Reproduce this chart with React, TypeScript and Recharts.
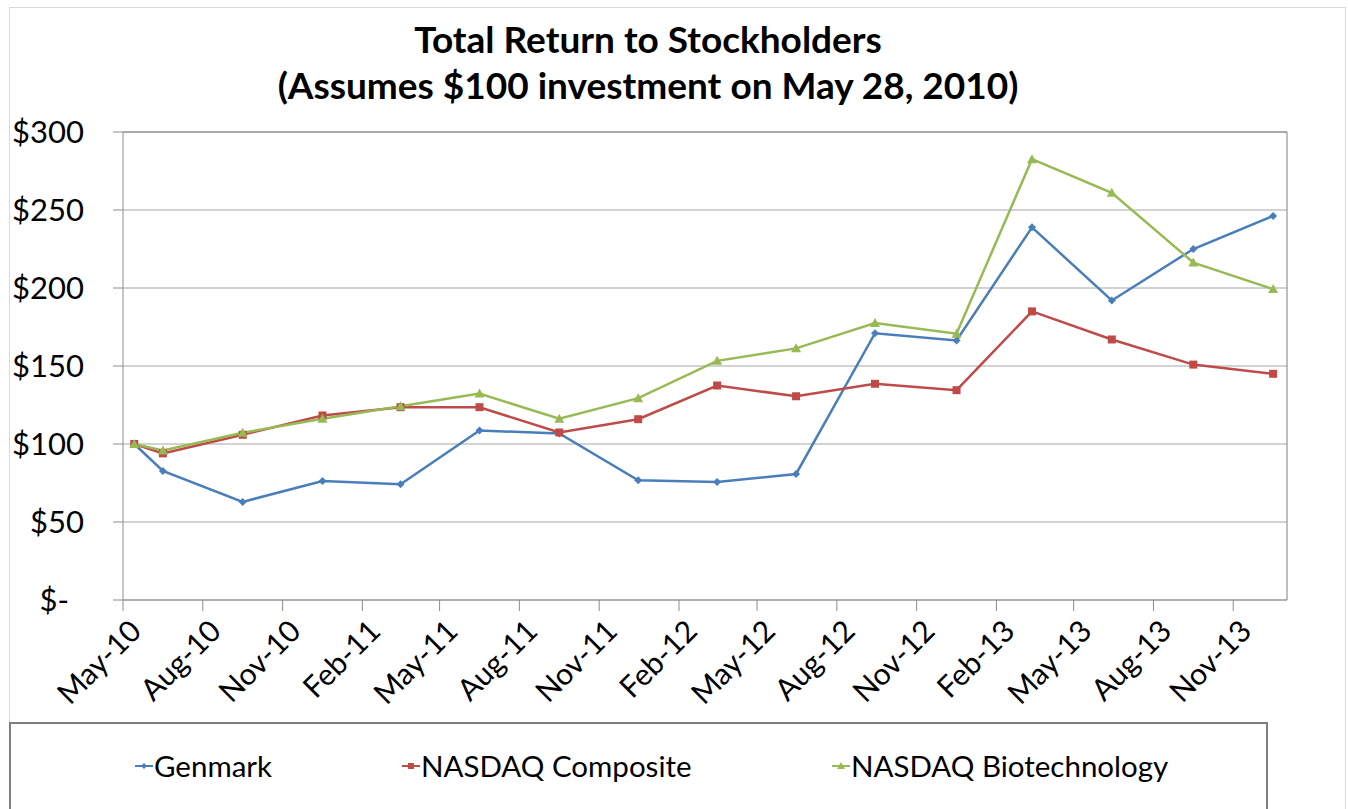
import React from 'react';
import { LineChart, Line, XAxis, YAxis, CartesianGrid, Legend, ReferenceLine } from 'recharts';

// quarter-end dates, $100 invested on May 28, 2010
const dates = [
  '2010-05-28', '2010-06-30', '2010-09-30', '2010-12-31',
  '2011-03-31', '2011-06-30', '2011-09-30', '2011-12-30',
  '2012-03-30', '2012-06-29', '2012-09-28', '2012-12-31',
  '2013-03-28', '2013-06-28', '2013-09-30', '2013-12-31',
];
const genmark = [100, 82.7, 62.9, 76.3, 74.2, 108.6, 106.8, 76.7, 75.6, 80.8, 171.0, 166.4, 238.9, 192.0, 225.0, 246.2];
const nasdaqComposite = [100, 94.0, 105.9, 118.3, 123.6, 123.6, 107.4, 115.9, 137.5, 130.6, 138.6, 134.5, 185.0, 167.0, 150.9, 145.0];
const nasdaqBiotech = [100, 95.9, 107.2, 116.2, 124.2, 132.3, 116.2, 129.4, 153.3, 161.3, 177.6, 170.7, 282.6, 261.0, 216.3, 199.3];

const seriesNames = ['Genmark', 'NASDAQ Composite', 'NASDAQ Biotechnology'];

const tickDates = [
  '2010-05-15', '2010-08-15', '2010-11-15', '2011-02-15', '2011-05-15',
  '2011-08-15', '2011-11-15', '2012-02-15', '2012-05-15', '2012-08-15',
  '2012-11-15', '2013-02-15', '2013-05-15', '2013-08-15', '2013-11-15',
];
const tickLabels = [
  'May-10', 'Aug-10', 'Nov-10', 'Feb-11', 'May-11', 'Aug-11', 'Nov-11', 'Feb-12',
  'May-12', 'Aug-12', 'Nov-12', 'Feb-13', 'May-13', 'Aug-13', 'Nov-13',
];
const yTicks = [0, 50, 100, 150, 200, 250, 300];
const xRange = ['2010-05-15', '2014-01-16'];

const COLORS = { genmark: '#4A7EBB', composite: '#BE4B48', biotech: '#98B954' };
const FONT = 'Lato, "Open Sans", sans-serif';

const data = dates.map((d, i) => ({
  t: Date.parse(d),
  genmark: genmark[i],
  composite: nasdaqComposite[i],
  biotech: nasdaqBiotech[i],
}));
const ticks = tickDates.map(d => Date.parse(d));
const xDomain = xRange.map(d => Date.parse(d));

const markerPath = (shape: string, cx: number, cy: number, r = 4) => {
  if (shape === 'diamond') return `M${cx},${cy - r}L${cx + r},${cy}L${cx},${cy + r}L${cx - r},${cy}Z`;
  if (shape === 'square') return `M${cx - r},${cy - r}h${2 * r}v${2 * r}h${-2 * r}Z`;
  return `M${cx},${cy - r - 1}L${cx + r + 1},${cy + r}L${cx - r - 1},${cy + r}Z`;
};

const makeDot = (shape: string, color: string) => (props: any) => {
  const { cx, cy, index } = props;
  if (cx == null || cy == null) return <g key={`e-${index}`} />;
  return <path key={`${shape}-${index}`} d={markerPath(shape, cx, cy)} fill={color} stroke="none" />;
};

const XTick = (props: any) => {
  const { x, y, payload } = props;
  const i = ticks.indexOf(payload.value);
  return (
    <g transform={`translate(${x + 20},${y + 22})`}>
      <text textAnchor="end" transform="rotate(-45)" fontSize={30} fontFamily={FONT} fill="#000">
        {tickLabels[i]}
      </text>
    </g>
  );
};

const YTick = (props: any) => {
  const { x, y, payload } = props;
  const v = payload.value;
  return (
    <text x={v === 0 ? x - 15 : x} y={y} dy={11} textAnchor="end" fontSize={31} fontFamily={FONT} fill="#000">
      {v === 0 ? '$-' : `$${v}`}
    </text>
  );
};

const legendShapes = ['diamond', 'square', 'triangle'];
const legendLeft = [124, 391, 821];

const LegendBox = (props: any) => {
  const payload = [...(props.payload || [])].sort(
    (a: any, b: any) => seriesNames.indexOf(a.value) - seriesNames.indexOf(b.value)
  );
  return (
    <div style={{ position: 'relative', width: 1259, height: 100, borderTop: '2px solid #7f7f7f', borderLeft: '2px solid #7f7f7f', borderRight: '2px solid #7f7f7f', boxSizing: 'border-box', background: '#fff' }}>
      {payload.map((entry: any, i: number) => (
        <div key={entry.value} style={{ position: 'absolute', left: legendLeft[i], top: 24, display: 'flex', alignItems: 'center', fontFamily: FONT, fontSize: 29.5, color: '#000', whiteSpace: 'nowrap' }}>
          <svg width={18} height={12} style={{ marginRight: 1 }}>
            <line x1={0} y1={6} x2={18} y2={6} stroke={entry.color} strokeWidth={2} />
            <path d={markerPath(legendShapes[i], 9, 6, 3)} fill={entry.color} />
          </svg>
          <span>{entry.value}</span>
        </div>
      ))}
    </div>
  );
};

export default function App() {
  return (
    <div style={{ position: 'absolute', left: 0, top: 0, width: 1348, height: 809, overflow: 'hidden', background: '#fff' }}>
      <div style={{ position: 'absolute', left: 9, top: 7, width: 1335, height: 840, border: '1px solid #d9d9d9' }} />
      <div style={{ position: 'absolute', left: 0, top: 16, width: 1296, textAlign: 'center', fontFamily: FONT, fontWeight: 700, fontSize: 37, lineHeight: '46px', color: '#000' }}>
        <div>Total Return to Stockholders</div>
        <div>(Assumes $100 investment on May 28, 2010)</div>
      </div>
      <div style={{ position: 'absolute', left: 0, top: 0 }}>
        <LineChart width={1348} height={809} data={data} margin={{ top: 132, right: 61, left: 0, bottom: 0 }}>
          <CartesianGrid vertical={false} stroke="#a6a6a6" strokeWidth={1} />
          <XAxis
            dataKey="t"
            type="number"
            scale="time"
            domain={xDomain}
            ticks={ticks}
            tick={<XTick />}
            tickSize={11}
            tickMargin={0}
            height={209}
            stroke="#8c8c8c"
            interval={0}
            allowDataOverflow
          />
          <YAxis
            domain={[0, 300]}
            ticks={yTicks}
            tick={<YTick />}
            tickSize={10}
            tickMargin={29}
            width={123}
            stroke="#8c8c8c"
            interval={0}
          />
          <ReferenceLine y={300} stroke="#7f7f7f" />
          <ReferenceLine x={xDomain[1]} stroke="#7f7f7f" />
          <Legend
            verticalAlign="middle"
            align="center"
            layout="horizontal"
            width={1259}
            height={100}
            wrapperStyle={{ left: 9, top: 722, width: 1259, height: 100 }}
            content={<LegendBox />}
          />
          <Line type="linear" dataKey="genmark" name={seriesNames[0]} stroke={COLORS.genmark} strokeWidth={2.5} dot={makeDot('diamond', COLORS.genmark)} activeDot={false} isAnimationActive={false} />
          <Line type="linear" dataKey="composite" name={seriesNames[1]} stroke={COLORS.composite} strokeWidth={2.5} dot={makeDot('square', COLORS.composite)} activeDot={false} isAnimationActive={false} />
          <Line type="linear" dataKey="biotech" name={seriesNames[2]} stroke={COLORS.biotech} strokeWidth={2.5} dot={makeDot('triangle', COLORS.biotech)} activeDot={false} isAnimationActive={false} />
        </LineChart>
      </div>
    </div>
  );
}
